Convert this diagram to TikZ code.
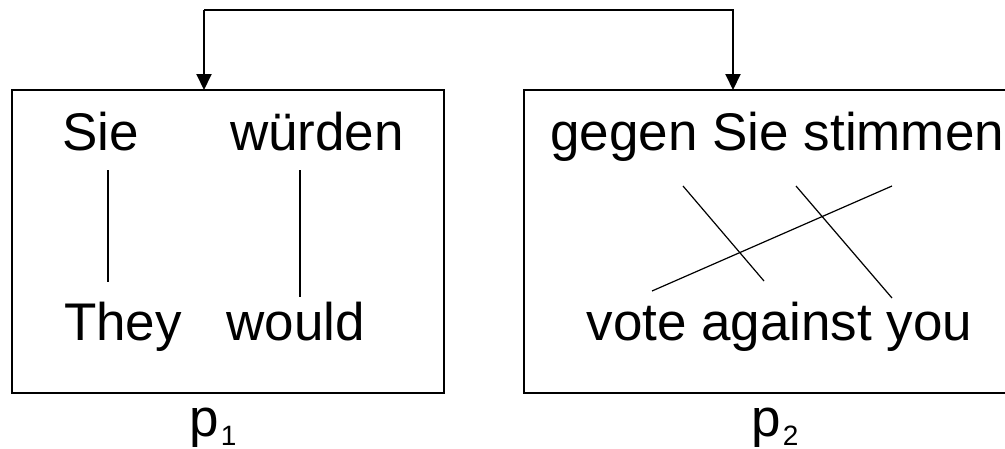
\documentclass[tikz,border=0pt]{standalone}
\usepackage{fontspec}
\setmainfont{Liberation Sans}
\usetikzlibrary{arrows.meta}
\tikzset{
  word/.style={inner sep=0pt, outer sep=0pt, anchor=base west,
               font=\fontsize{53}{60}\selectfont},
  panel/.style={draw, line width=2pt, inner sep=0pt, outer sep=0pt},
  link/.style={line width=1.2pt},
  jump/.style={line width=2pt, -{Triangle[length=16pt, width=15pt]}},
}
\newcommand{\phrasesub}[1]{\kern2pt\raisebox{-9pt}{\fontsize{28}{28}\selectfont #1}}
\begin{document}
\begin{tikzpicture}[x=1pt, y=-1pt]
\useasboundingbox (0,0) rectangle (1005,448);

% the two phrase panels
\node[panel, minimum width=432pt, minimum height=303pt] (box1) at (228,241.5) {};
\node[panel, minimum width=490pt, minimum height=303pt] (box2) at (769,241.5) {};

% left panel: words
\node[word] (sie)    at (62.5,150) {Sie};
\node[word] (wuerden) at (230,150) {würden};
\node[word] (they)   at (64,340) {They};
\node[word] (would)  at (226.5,340) {would};

% right panel: words
\node[word] (gegen) at (550.5,150) {gegen Sie stimmen};
\node[word] (vote)  at (586.5,340) {vote against you};

% panel labels
\node[word] (p1) at (189.5,436) {p\phrasesub{1}};
\node[word] (p2) at (751.5,436) {p\phrasesub{2}};

% word alignment links, left panel
\coordinate (a1) at (108,170);
\coordinate (a2) at (108,282);
\coordinate (b1) at (300,170);
\coordinate (b2) at (300,297);
\draw[link] (a1) -- (a2);
\draw[link] (b1) -- (b2);

% word alignment links, right panel
\coordinate (c1) at (683,186);
\coordinate (c2) at (764,281);
\coordinate (d1) at (796,186);
\coordinate (d2) at (892,298);
\coordinate (e1) at (892,186);
\coordinate (e2) at (652,291);
\draw[link] (c1) -- (c2);
\draw[link] (d1) -- (d2);
\draw[link] (e1) -- (e2);

% bracket joining the panels
\coordinate (tl) at (204,10);
\coordinate (tr) at (733,10);
\draw[jump] (tl) -- (tl |- box1.north);
\draw[jump] (tl) -- (tr) -- (tr |- box2.north);
\end{tikzpicture}
\end{document}
